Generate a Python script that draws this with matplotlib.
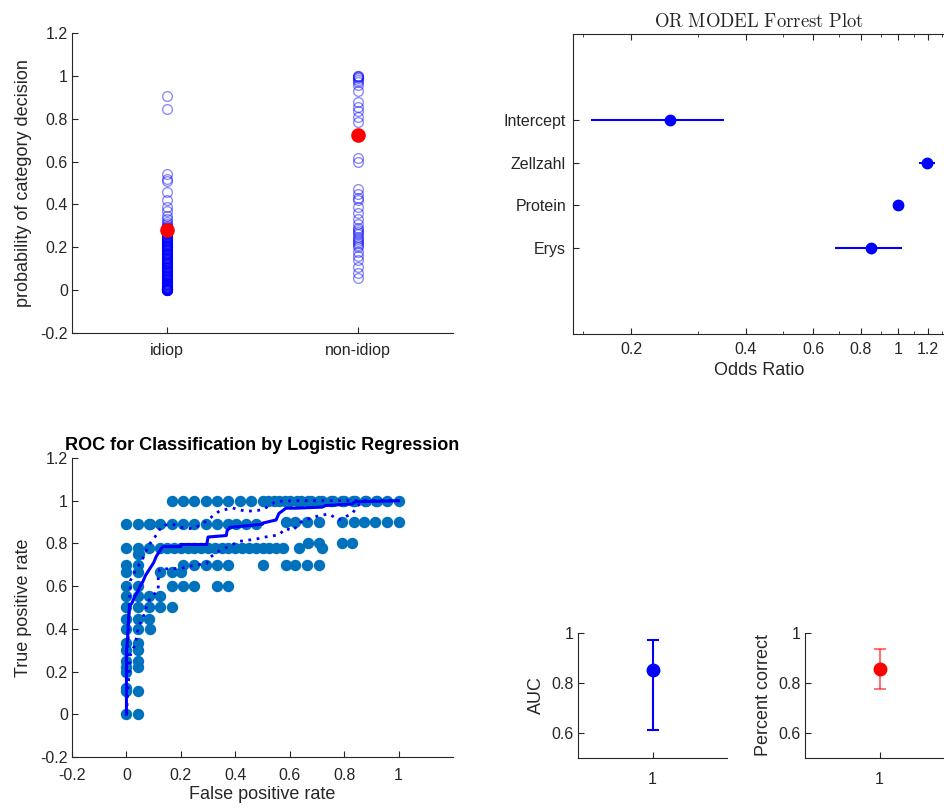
import matplotlib
matplotlib.use('Agg')
import matplotlib.pyplot as plt
from matplotlib.ticker import FixedLocator, NullFormatter

matplotlib.rcParams['font.family'] = ['Liberation Sans', 'DejaVu Sans']
matplotlib.rcParams['font.size'] = 11.5
matplotlib.rcParams['mathtext.fontset'] = 'cm'
matplotlib.rcParams['axes.edgecolor'] = '#262626'
matplotlib.rcParams['xtick.color'] = '#262626'
matplotlib.rcParams['ytick.color'] = '#262626'
matplotlib.rcParams['axes.labelcolor'] = '#262626'
matplotlib.rcParams['xtick.direction'] = 'in'
matplotlib.rcParams['ytick.direction'] = 'in'
matplotlib.rcParams['axes.linewidth'] = 0.8

TICK_FS = 11.5
LABEL_FS = 13

# --- panel 1: predicted probabilities per category
categories = ['idiop', 'non-idiop']
idiop_prob = [0.905, 0.845, 0.54, 0.52, 0.51, 0.46, 0.42, 0.39, 0.37, 0.345,
              0.33, 0.32, 0.31, 0.30, 0.295, 0.29, 0.285, 0.28, 0.275, 0.27,
              0.265, 0.26, 0.255, 0.25, 0.245, 0.24, 0.235, 0.23, 0.225, 0.22,
              0.215, 0.21, 0.205, 0.20, 0.195, 0.19, 0.185, 0.18, 0.175, 0.17,
              0.165, 0.16, 0.155, 0.15, 0.145, 0.14, 0.135, 0.13, 0.125, 0.12,
              0.115, 0.11, 0.105, 0.10, 0.095, 0.09, 0.085, 0.08, 0.075, 0.07,
              0.065, 0.06, 0.055, 0.05, 0.045, 0.04, 0.035, 0.03, 0.028, 0.025,
              0.022, 0.02, 0.018, 0.015, 0.012, 0.01, 0.008, 0.006, 0.005,
              0.004, 0.003, 0.002, 0.001, 0.0,
              0.282, 0.272, 0.262, 0.252, 0.242, 0.232, 0.222, 0.212, 0.202,
              0.192, 0.182, 0.172, 0.162, 0.152, 0.142, 0.132, 0.122, 0.112,
              0.102, 0.092, 0.082, 0.072, 0.062, 0.052, 0.042, 0.032, 0.024,
              0.016, 0.009, 0.003, 0.268, 0.248, 0.228, 0.208, 0.188, 0.168,
              0.148, 0.128, 0.108, 0.088, 0.068, 0.048, 0.038, 0.027, 0.014,
              0.007, 0.002, 0.0, 0.0, 0.001]
nonidiop_prob = [1.0, 0.998, 0.995, 0.99, 0.98, 0.97, 0.955, 0.93, 0.88, 0.855,
                 0.835, 0.81, 0.785, 0.615, 0.60, 0.47, 0.45, 0.43, 0.42, 0.39,
                 0.36, 0.33, 0.31, 0.29, 0.28, 0.27, 0.26, 0.25, 0.24, 0.23,
                 0.22, 0.21, 0.20, 0.18, 0.16, 0.14, 0.11, 0.08, 0.055]
group_center = [0.28, 0.725]

# --- panel 2: odds ratios
predictors = ['Intercept', 'Zellzahl', 'Protein', 'Erys']
odds_ratio = [0.253, 1.19, 1.0, 0.85]
or_low = [0.157, 1.135, 0.995, 0.684]
or_high = [0.350, 1.25, 1.005, 1.025]

# --- panel 3: ROC
roc_tpr_levels = [1.0, 0.9, 0.889, 0.8, 0.778, 0.75, 0.7, 0.667, 0.6, 0.556,
                  0.5, 0.444, 0.4, 0.333, 0.3, 0.25, 0.222, 0.2, 0.125, 0.111, 0.0]
roc_fpr_by_level = [
    [0.167, 0.208, 0.25, 0.292, 0.333, 0.375, 0.417, 0.458, 0.5, 0.52, 0.542,
     0.56, 0.583, 0.6, 0.625, 0.64, 0.667, 0.68, 0.708, 0.72, 0.75, 0.76,
     0.792, 0.8, 0.833, 0.84, 0.875, 0.88, 0.917, 0.92, 0.958, 1.0],
    [0.586, 0.62, 0.664, 0.708, 0.793, 0.836, 0.872, 0.915, 0.956, 1.0],
    [0.0, 0.042, 0.083, 0.088, 0.125, 0.167, 0.208, 0.25, 0.292, 0.333,
     0.375, 0.404, 0.44, 0.477],
    [0.667, 0.708, 0.793, 0.83],
    [0.0, 0.042, 0.083, 0.125, 0.15, 0.175, 0.2, 0.225, 0.25, 0.275, 0.3,
     0.325, 0.35, 0.375, 0.4, 0.425, 0.45, 0.475, 0.5, 0.525, 0.55, 0.575,
     0.634, 0.72],
    [0.042, 0.045],
    [0.0, 0.042, 0.208, 0.25, 0.292, 0.333, 0.375, 0.5, 0.586, 0.62, 0.664,
     0.708],
    [0.0, 0.042, 0.125, 0.167, 0.2],
    [0.0, 0.042, 0.167, 0.208, 0.25, 0.333, 0.375],
    [0.0, 0.042, 0.083, 0.125],
    [0.0, 0.042, 0.083, 0.125, 0.167],
    [0.0, 0.042, 0.083],
    [0.0, 0.042, 0.088],
    [0.0, 0.042],
    [0.0, 0.042],
    [0.0, 0.042],
    [0.0, 0.042],
    [0.0],
    [0.0],
    [0.0, 0.042],
    [0.0, 0.042],
]
roc_mean_fpr = [0, 0, 0.004, 0.008, 0.012, 0.02, 0.03, 0.04, 0.05, 0.06, 0.07,
                0.08, 0.09, 0.1, 0.11, 0.12, 0.13, 0.135, 0.2, 0.2, 0.295, 0.3,
                0.367, 0.37, 0.38, 0.5, 0.5, 0.55, 0.56, 0.586, 0.62, 0.72,
                0.73, 0.83, 0.84, 1.0]
roc_mean_tpr = [0, 0.3, 0.35, 0.45, 0.51, 0.52, 0.55, 0.57, 0.6, 0.62, 0.65,
                0.67, 0.69, 0.71, 0.74, 0.76, 0.78, 0.785, 0.785, 0.795, 0.795,
                0.83, 0.837, 0.86, 0.875, 0.89, 0.895, 0.91, 0.94, 0.965, 0.965,
                0.97, 0.977, 0.985, 0.995, 1.0]
roc_up_fpr = [0.0, 0.005, 0.01, 0.015, 0.033, 0.057, 0.081, 0.112, 0.13,
              0.167, 0.203, 0.246, 0.288, 0.319, 0.343, 0.38, 0.39, 0.44, 0.5,
              0.55, 0.634, 1.0]
roc_up_tpr = [0.0, 0.3, 0.5, 0.627, 0.673, 0.72, 0.79, 0.843, 0.883, 0.891,
              0.875, 0.868, 0.9, 0.93, 0.953, 0.963, 0.966, 0.95, 0.957, 0.997,
              1.0, 1.0]
roc_lo_fpr = [0.0, 0.01, 0.015, 0.033, 0.044, 0.062, 0.08, 0.1, 0.117, 0.117,
              0.122, 0.2, 0.246, 0.295, 0.307, 0.343, 0.366, 0.415, 0.475, 0.51,
              0.56, 0.585, 0.61, 0.646, 0.707, 0.744, 0.78, 0.83, 0.85, 0.878,
              1.0]
roc_lo_tpr = [0.0, 0.2, 0.28, 0.33, 0.41, 0.455, 0.53, 0.56, 0.58, 0.64, 0.68,
              0.683, 0.697, 0.706, 0.735, 0.767, 0.78, 0.81, 0.82, 0.83, 0.84,
              0.87, 0.86, 0.905, 0.93, 0.938, 0.91, 0.94, 0.977, 1.0, 1.0]

# --- panel 4: summary stats
auc_val, auc_low, auc_high = 0.853, 0.614, 0.972
pc_val, pc_low, pc_high = 0.856, 0.776, 0.936

W, H = 944, 809
fig = plt.figure(figsize=(W / 100, H / 100), dpi=100)


def box(x0, y0, x1, y1):
    # pixel box -> figure fraction
    return [x0 / W, 1 - y1 / H, (x1 - x0) / W, (y1 - y0) / H]


def matlab_style(ax):
    ax.spines['top'].set_visible(False)
    ax.spines['right'].set_visible(False)
    ax.tick_params(length=4, width=0.8, labelsize=TICK_FS, top=False,
                   right=False, pad=3)


# probabilities
ax1 = fig.add_axes(box(72, 33, 453, 333))
ax1.plot([1] * len(idiop_prob), idiop_prob, 'o', ms=7, mfc='none',
         mec=(0, 0, 1, 0.45), mew=1.0)
ax1.plot([2] * len(nonidiop_prob), nonidiop_prob, 'o', ms=7, mfc='none',
         mec=(0, 0, 1, 0.45), mew=1.0)
ax1.plot([1, 2], group_center, 'o', ms=9.5, color='red', ls='none')
ax1.set_xlim(0.5, 2.5)
ax1.set_ylim(-0.2, 1.2)
ax1.set_xticks([1, 2])
ax1.set_xticklabels(categories)
ax1.set_yticks([-0.2, 0, 0.2, 0.4, 0.6, 0.8, 1, 1.2])
ax1.set_yticklabels(['-0.2', '0', '0.2', '0.4', '0.6', '0.8', '1', '1.2'])
ax1.set_ylabel('probability of category decision', fontsize=LABEL_FS,
               labelpad=6)
matlab_style(ax1)
ax1.tick_params(axis='x', pad=7)

# forest plot
ax2 = fig.add_axes(box(573, 34, 946, 334))
ypos = [4, 3, 2, 1]
ax2.hlines(ypos, or_low, or_high, color='blue', lw=1.5)
ax2.plot(odds_ratio, ypos, 'o', color='blue', ms=7.5, ls='none')
ax2.set_xscale('log')
ax2.set_xlim(0.141, 1.335)
ax2.set_ylim(-1, 6)
ax2.xaxis.set_major_locator(FixedLocator([0.2, 0.4, 0.6, 0.8, 1, 1.2]))
ax2.set_xticklabels(['0.2', '0.4', '0.6', '0.8', '1', '1.2'])
ax2.xaxis.set_minor_locator(FixedLocator([0.15, 0.3, 0.5, 0.7, 0.9, 1.1, 1.3]))
ax2.xaxis.set_minor_formatter(NullFormatter())
ax2.set_yticks(ypos)
ax2.set_yticklabels(predictors)
ax2.tick_params(which='major', length=4, width=0.8, labelsize=TICK_FS, top=True)
ax2.tick_params(which='minor', length=2, width=0.6, top=True)
ax2.tick_params(axis='x', pad=6)
ax2.tick_params(axis='y', pad=5)
ax2.set_xlabel('Odds Ratio', fontsize=LABEL_FS, labelpad=3)
ax2.set_title(r'$\mathrm{OR\ MODEL\ Forrest\ Plot}$', fontsize=13.5, pad=5,
              color='#262626')

# ROC
ax3 = fig.add_axes(box(72, 458, 453, 757))
for tpr, fprs in zip(roc_tpr_levels, roc_fpr_by_level):
    ax3.plot(fprs, [tpr] * len(fprs), 'o', color='#0072BD', ms=7.2, ls='none')
ax3.plot(roc_mean_fpr, roc_mean_tpr, color='blue', lw=2.2)
ax3.plot(roc_up_fpr, roc_up_tpr, color='blue', lw=2, ls=(0, (1, 2)))
ax3.plot(roc_lo_fpr, roc_lo_tpr, color='blue', lw=2, ls=(0, (1, 2)))
ax3.set_xlim(-0.2, 1.2)
ax3.set_ylim(-0.2, 1.2)
ax3.set_xticks([-0.2, 0, 0.2, 0.4, 0.6, 0.8, 1])
ax3.set_xticklabels(['-0.2', '0', '0.2', '0.4', '0.6', '0.8', '1'])
ax3.set_yticks([-0.2, 0, 0.2, 0.4, 0.6, 0.8, 1, 1.2])
ax3.set_yticklabels(['-0.2', '0', '0.2', '0.4', '0.6', '0.8', '1', '1.2'])
ax3.set_xlabel('False positive rate', fontsize=LABEL_FS, labelpad=2)
ax3.set_ylabel('True positive rate', fontsize=LABEL_FS, labelpad=6)
ax3.set_title('ROC for Classification by Logistic Regression', fontsize=13,
              fontweight='bold', pad=6)
matlab_style(ax3)
ax3.tick_params(axis='x', pad=8)

# AUC
ax4 = fig.add_axes(box(578, 633, 727, 758))
ax4.errorbar([1], [auc_val], yerr=[[auc_val - auc_low], [auc_high - auc_val]],
             fmt='o', color='blue', ms=9, capsize=4, elinewidth=1.5, capthick=1.5)
ax4.set_xlim(0.5, 1.5)
ax4.set_ylim(0.5, 1.0)
ax4.set_xticks([1])
ax4.set_yticks([0.6, 0.8, 1.0])
ax4.set_yticklabels(['0.6', '0.8', '1'])
ax4.set_ylabel('AUC', fontsize=LABEL_FS, labelpad=5)
matlab_style(ax4)
ax4.tick_params(axis='x', pad=10)

# percent correct
ax5 = fig.add_axes(box(805, 633, 954, 758))
ax5.errorbar([1], [pc_val], yerr=[[pc_val - pc_low], [pc_high - pc_val]],
             fmt='o', color='red', ecolor=(1, 0, 0, 0.55), ms=9, capsize=4,
             elinewidth=1.5, capthick=1.5)
ax5.set_xlim(0.5, 1.5)
ax5.set_ylim(0.5, 1.0)
ax5.set_xticks([1])
ax5.set_yticks([0.6, 0.8, 1.0])
ax5.set_yticklabels(['0.6', '0.8', '1'])
ax5.set_ylabel('Percent correct', fontsize=LABEL_FS, labelpad=5)
matlab_style(ax5)
ax5.tick_params(axis='x', pad=10)

fig.savefig('out.png', dpi=100)
